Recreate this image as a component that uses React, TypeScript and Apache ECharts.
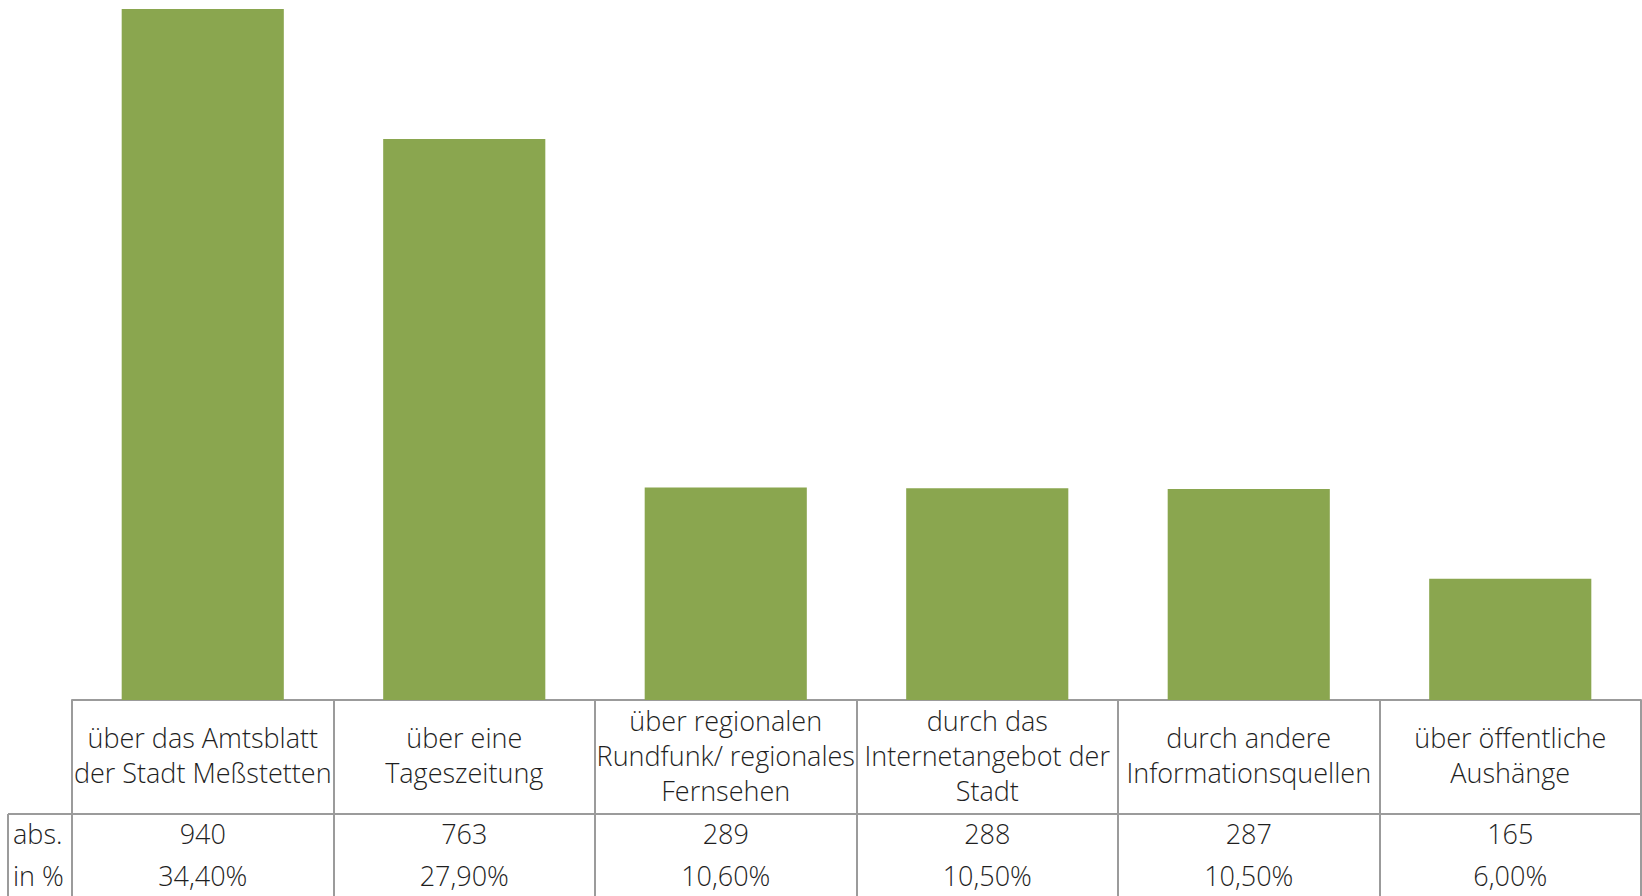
import React, { useEffect, useRef } from "react";
import * as echarts from "echarts";

const categories = [
  "über das Amtsblatt\nder Stadt Meßstetten",
  "über eine\nTageszeitung",
  "über regionalen\nRundfunk/ regionales\nFernsehen",
  "durch das\nInternetangebot der\nStadt",
  "durch andere\nInformationsquellen",
  "über öffentliche\nAushänge",
];
const absValues = [940, 763, 289, 288, 287, 165];
const pctValues = [34.4, 27.9, 10.6, 10.5, 10.5, 6.0];
const rowLabels = ["abs.", "in %"];

const FONT = "Open Sans";
const FS = 27;
const LINE = "#9B9B9B";
const TEXT = "#1F1F1F";

export default function App() {
  const ref = useRef<HTMLDivElement>(null);
  useEffect(() => {
    const chart = echarts.init(ref.current!, null, { renderer: "svg" });
    const axisBase = {
      type: "category" as const,
      data: categories,
      position: "bottom" as const,
      axisLine: { show: false },
      axisTick: { show: false },
    };
    chart.setOption({
      animation: false,
      grid: { left: 72, right: 1, top: 9, bottom: 196, containLabel: false },
      yAxis: { type: "value", min: 0, max: 940, show: false },
      xAxis: [
        {
          ...axisBase,
          axisLine: { show: true, lineStyle: { color: LINE, width: 2 } },
          axisTick: {
            show: true,
            interval: 0,
            length: 196,
            inside: false,
            lineStyle: { color: LINE, width: 2 },
          },
          axisLabel: {
            interval: 0,
            margin: 55,
            verticalAlign: "middle",
            fontFamily: FONT,
            fontSize: FS,
            fontWeight: 300,
            lineHeight: 35,
            color: TEXT,
          },
        },
        {
          ...axisBase,
          offset: 133,
          axisLabel: {
            interval: 0,
            margin: 0,
            verticalAlign: "middle",
            fontFamily: FONT,
            fontSize: FS,
            fontWeight: 300,
            color: TEXT,
            formatter: (_v: string, i: number) => String(absValues[i]),
          },
        },
        {
          ...axisBase,
          offset: 175,
          axisLabel: {
            interval: 0,
            margin: 0,
            verticalAlign: "middle",
            fontFamily: FONT,
            fontSize: FS,
            fontWeight: 300,
            color: TEXT,
            formatter: (_v: string, i: number) =>
              pctValues[i].toFixed(2).replace(".", ",") + "%",
          },
        },
      ],
      series: [
        {
          type: "bar",
          data: absValues,
          barWidth: "62%",
          itemStyle: { color: "#8AA64F" },
        },
      ],
      graphic: [
        {
          type: "line",
          shape: { x1: 8, y1: 814, x2: 1641, y2: 814 },
          style: { stroke: LINE, lineWidth: 2 },
        },
        {
          type: "line",
          shape: { x1: 8, y1: 814, x2: 8, y2: 896 },
          style: { stroke: LINE, lineWidth: 2 },
        },
        {
          type: "text",
          x: 13,
          y: 833,
          style: {
            text: rowLabels[0],
            fontFamily: FONT,
            fontSize: FS,
            fontWeight: 300,
            fill: TEXT,
            verticalAlign: "middle",
          },
        },
        {
          type: "text",
          x: 13,
          y: 875,
          style: {
            text: rowLabels[1],
            fontFamily: FONT,
            fontSize: FS,
            fontWeight: 300,
            fill: TEXT,
            verticalAlign: "middle",
          },
        },
      ],
    });
    return () => chart.dispose();
  }, []);
  return (
    <div
      ref={ref}
      style={{ position: "fixed", left: 0, top: 0, width: 1642, height: 896, background: "#fff" }}
    />
  );
}
